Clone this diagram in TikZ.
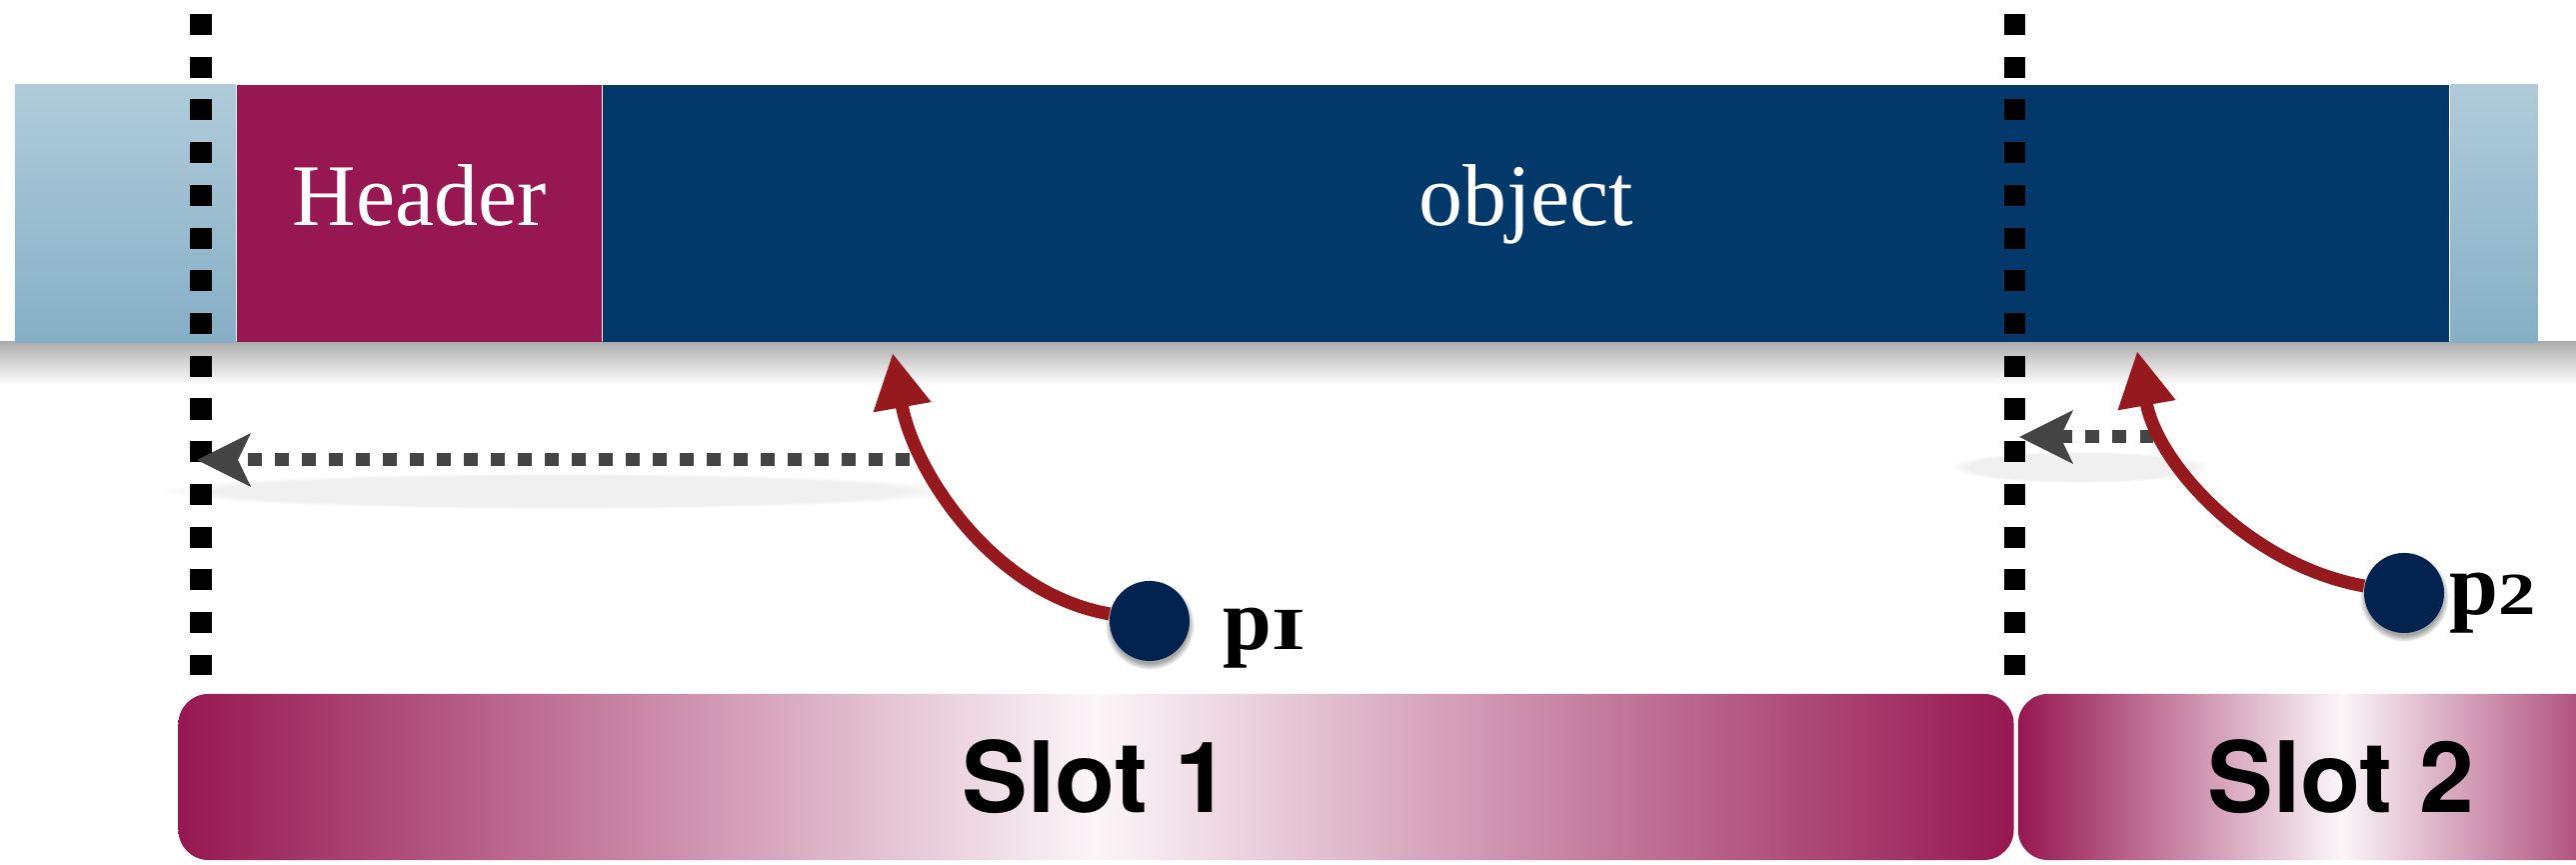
\documentclass[tikz,border=0pt]{standalone}
\usepackage{fontspec}
\setmainfont{Liberation Serif}
\newfontfamily\slotfont{TeX Gyre Heros}
\usepackage{graphicx}
\usetikzlibrary{arrows.meta, positioning, shadows, fadings}
\definecolor{hdrred}{HTML}{961751}
\definecolor{objblue}{HTML}{03386A}
\definecolor{padtop}{HTML}{AFCBD9}
\definecolor{padbot}{HTML}{86AFC7}
\definecolor{ptrnavy}{HTML}{02224F}
\definecolor{ptrred}{HTML}{961A1D}
\definecolor{hintgray}{HTML}{444444}
\newcommand{\oldfig}[2][1]{{\fontsize{17}{17}\selectfont\scalebox{#1}[1]{#2}}}

\begin{document}
\begin{tikzpicture}[x=0.01cm, y=0.01cm,
  seg/.style={rectangle, inner sep=0pt, minimum height=2.57cm, text=white,
    font=\fontsize{25}{25}\selectfont, text height=0.68em, text depth=0pt},
  pad/.style={seg, top color=padtop, bottom color=padbot},
  slotbox/.style={rectangle, rounded corners=0.3cm, minimum height=1.66cm, inner sep=0pt,
    left color=hdrred, right color=hdrred, middle color=hdrred!4,
    font=\slotfont\bfseries\fontsize{28}{28}\selectfont},
  bound/.style={line width=0.21cm, dash pattern=on 0.21cm off 0.217cm},
  hint/.style={hintgray, line width=0.13cm, dash pattern=on 0.135cm off 0.135cm,
    -{Stealth[length=0.53cm, width=0.52cm, inset=0.12cm]}},
  hintshadow/.style={black!6, path fading=circle with fuzzy edge 15 percent},
  ptr/.style={ptrred, line width=0.13cm, -{Triangle[length=0.55cm, width=0.55cm]}},
  ptrdot/.style={circle, fill=ptrnavy, minimum size=0.8cm, inner sep=0pt,
    circular drop shadow={shadow xshift=0pt, shadow yshift=-1pt, shadow scale=1.12, opacity=0.7}},
  ptrlabel/.style={anchor=base west, inner sep=0pt, font=\bfseries\fontsize{25}{25}\selectfont}]
  \useasboundingbox (0,0) rectangle (2577,865);
  \clip (0,0) rectangle (2577,865);
  % Shadows
  \shade[top color=black!32, bottom color=white] (0,523) rectangle (2577,480);
  \fill[hintshadow] (560,374) ellipse (400 and 18);
  \fill[hintshadow] (2080,398) ellipse (130 and 16);
  % Memory bar
  \node[pad, minimum width=2.21cm] (padL) at (125.5,651.5) {};
  \node[seg, fill=hdrred, minimum width=3.64cm, right=0pt of padL] (header) {Header};
  \node[seg, fill=objblue, minimum width=18.46cm, right=0pt of header] (object) {object};
  \node[pad, minimum width=0.87cm, right=0pt of object] (padR) {};
  % Slot boundaries
  \coordinate (cutA) at (201,851);
  \coordinate (cutA end) at (201,190);
  \coordinate (cutB) at (2015,851);
  \coordinate (cutB end) at (2015,190);
  \draw[bound] (cutA) -- (cutA end);
  \draw[bound] (cutB) -- (cutB end);
  % Slots
  \node[slotbox, minimum width=18.35cm] (slot1) at (1096.5,88) {Slot 1};
  \node[slotbox, minimum width=6.46cm] (slot2) at (2342,88) {Slot 2};
  % Back to slot start
  \coordinate (hint1) at (910,405);
  \coordinate (hint1 end) at (197,405);
  \coordinate (hint2) at (2154,428);
  \coordinate (hint2 end) at (2020,428);
  \draw[hint] (hint1) -- (hint1 end);
  \draw[hint] (hint2) -- (hint2 end);
  % Pointers
  \node[ptrdot] (p1) at (1150,244) {};
  \node[ptrdot] (p2) at (2405,272) {};
  \coordinate (tip1) at (893,512);
  \coordinate (tip2) at (2138,514);
  \draw[ptr] (p1) to[out=170, in=-80, looseness=0.9] (tip1);
  \draw[ptr] (p2) to[out=170, in=-80, looseness=0.9] (tip2);
  \node[ptrlabel] (p1 lbl) at (1223,215) {p\oldfig[1.45]{I}};
  \node[ptrlabel] (p2 lbl) at (2450,250) {p\oldfig[1.25]{2}};
\end{tikzpicture}
\end{document}
